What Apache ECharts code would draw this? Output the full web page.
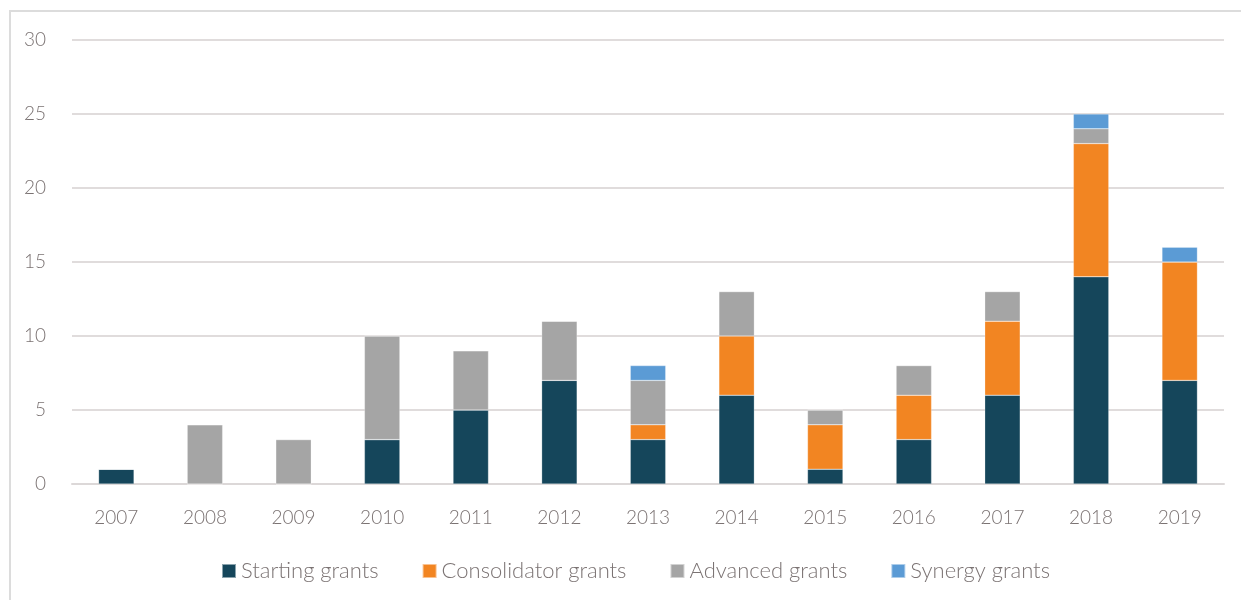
<!DOCTYPE html>
<html>
<head>
<meta charset="utf-8">
<script src="https://cdn.jsdelivr.net/npm/echarts@6/dist/echarts.min.js"></script>
<style>
	html, body { margin: 0; padding: 0; background: #fff; }
	#frame {
		position: absolute; left: 9px; top: 10px;
		width: 1300px; height: 700px;
		border: 2px solid #dcdcdc; box-sizing: border-box;
	}
	/* chart must have a size */
	#chart { position: absolute; left: 0; top: 0; width: 1241px; height: 600px; }
</style>
</head>
<body>
<div id="frame"></div>
<div id="chart"></div>
<script>
	var years = ['2007','2008','2009','2010','2011','2012','2013','2014','2015','2016','2017','2018','2019'];
	var starting     = [1, 0, 0, 3, 5, 7, 3, 6, 1, 3, 6, 14, 7];
	var consolidator = [0, 0, 0, 0, 0, 0, 1, 4, 3, 3, 5, 9, 8];
	var advanced     = [0, 4, 3, 7, 4, 4, 3, 3, 1, 2, 2, 1, 0];
	var synergy      = [0, 0, 0, 0, 0, 0, 1, 0, 0, 0, 0, 1, 1];

	var textColor = '#7b7373';
	var font = 'Lato';

	function barSeries (name, data, color) {
		return {
			name: name,
			type: 'bar',
			stack: 'total',
			barWidth: '40%',
			data: data,
			itemStyle: { color: color, borderColor: 'rgba(255,255,255,0.5)', borderWidth: 0.5 }
		};
	}

	var chart = echarts.init(document.getElementById('chart'));
	chart.setOption({
		animation: false,
		textStyle: { fontFamily: font },
		grid: { left: 72, right: 17, top: 40, bottom: 116, containLabel: false },
		legend: {
			left: 216,
			bottom: 13,
			itemWidth: 14,
			itemHeight: 14,
			itemGap: 43,
			icon: 'rect',
			textStyle: { color: textColor, fontSize: 22, fontFamily: font, fontWeight: 300 },
			data: ['Starting grants', 'Consolidator grants', 'Advanced grants', 'Synergy grants']
		},
		xAxis: {
			type: 'category',
			data: years,
			axisLine: { lineStyle: { color: '#dcd8d8', width: 2 } },
			axisTick: { show: false },
			axisLabel: { color: textColor, fontSize: 19, fontWeight: 300, margin: 24 }
		},
		yAxis: {
			type: 'value',
			min: 0,
			max: 30,
			interval: 5,
			axisLine: { show: false },
			axisTick: { show: false },
			splitLine: { lineStyle: { color: '#e0dcdc', width: 2 } },
			axisLabel: { color: textColor, fontSize: 19, fontWeight: 300, margin: 26 }
		},
		series: [
			barSeries('Starting grants', starting, '#15465b'),
			barSeries('Consolidator grants', consolidator, '#f28522'),
			barSeries('Advanced grants', advanced, '#a5a5a5'),
			barSeries('Synergy grants', synergy, '#5b9bd5')
		]
	});
</script>
</body>
</html>
